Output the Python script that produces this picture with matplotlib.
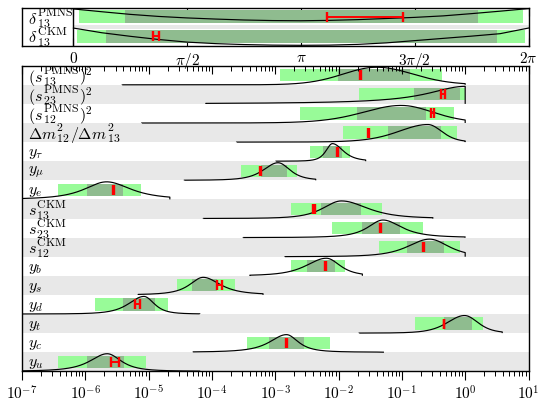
import numpy as np
import matplotlib
matplotlib.use("Agg")
import matplotlib.pyplot as plt
from matplotlib.ticker import LogLocator, NullFormatter, FixedLocator
from matplotlib.transforms import blended_transform_factory, ScaledTranslation

plt.rcParams['mathtext.fontset'] = 'cm'
plt.rcParams['font.family'] = 'serif'

# ---------------- data: lower panel (one entry per row, top to bottom) ----------------
# row labels as consecutive pieces; pieces starting with "{}" are script stacks set larger
row_labels = [
    ['$(s$', r'${}^{\mathrm{PMNS}}_{13}$', '$)^2$'],
    ['$(s$', r'${}^{\mathrm{PMNS}}_{23}$', '$)^2$'],
    ['$(s$', r'${}^{\mathrm{PMNS}}_{12}$', '$)^2$'],
    [r'$\Delta m$', '${}^{2}_{12}$', r'$/\Delta m$', '${}^{2}_{13}$'],
    [r'$y_\tau$'],
    [r'$y_\mu$'],
    [r'$y_e$'],
    ['$s$', r'${}^{\mathrm{CKM}}_{13}$'],
    ['$s$', r'${}^{\mathrm{CKM}}_{23}$'],
    ['$s$', r'${}^{\mathrm{CKM}}_{12}$'],
    [r'$y_b$'],
    [r'$y_s$'],
    [r'$y_d$'],
    [r'$y_t$'],
    [r'$y_c$'],
    [r'$y_u$'],
]

wide_lo = [1.178e-3, 2.080e-2, 2.438e-3, 1.175e-2, 3.499e-3, 2.858e-4, 3.656e-7,
           1.803e-3, 7.980e-3, 4.295e-2, 1.754e-3, 2.761e-5, 1.419e-6, 0.1629, 3.589e-4, 3.741e-7]
wide_hi = [0.4345, 0.977, 0.6561, 0.7396, 1.538e-2, 2.239e-3, 7.551e-6,
           4.920e-2, 0.2148, 0.8147, 1.250e-2, 2.296e-4, 2.032e-5, 1.901, 7.244e-3, 8.954e-6]
core_lo = [9.795e-3, 0.1531, 1.954e-2, 5.957e-2, 5.675e-3, 6.01e-4, 1.050e-6,
           5.224e-3, 2.344e-2, 0.1219, 3.221e-3, 4.764e-5, 3.963e-6, 0.4613, 7.980e-4, 1.072e-6]
core_hi = [0.1324, 0.8147, 0.2432, 0.4188, 1.148e-2, 1.560e-3, 3.882e-6,
           2.234e-2, 9.204e-2, 0.4560, 8.690e-3, 1.208e-4, 1.256e-5, 1.294, 2.818e-3, 4.064e-6]

meas_val = [2.208e-2, 0.4446, 0.3027, 2.951e-2, 9.795e-3, 5.834e-4, 2.761e-6,
            4.093e-3, 4.677e-2, 0.2228, 6.266e-3, 1.330e-4, 6.699e-6, 0.4613, 1.503e-3, 2.931e-6]
meas_err_dex = [0.008, 0.026, 0.026, 0.008, 0.008, 0.008, 0.008,
                0.012, 0.008, 0.008, 0.008, 0.042, 0.040, 0.006, 0.008, 0.066]

dist_lo = [3.80e-6, 8.0e-5, 7.74e-6, 2.44e-4, 1.019e-3, 3.64e-5, 1e-7,
           7.26e-5, 3.10e-4, 1.413e-3, 3.963e-4, 6.84e-6, 1e-7, 2.10e-2, 5.047e-5, 1e-7]
dist_hi = [1.0, 1.0, 1.0, 1.0, 2.679e-2, 4.355e-3, 2.163e-5,
           0.309, 1.0, 1.0, 2.377e-2, 6.412e-4, 6.442e-5, 3.846, 5.212e-2, 6.442e-5]
dist_peak = [4.0e-2, 1.0, 9.8e-2, 0.2576, 8.0e-3, 1.107e-3, 2.168e-6,
             1.109e-2, 5.023e-2, 0.2742, 6.427e-3, 7.261e-5, 8.414e-6, 0.977, 1.503e-3, 2.218e-6]
dist_wl = [0.63, 0.72, 0.72, 0.55, 0.12, 0.27, 0.41, 0.34, 0.28, 0.40, 0.37, 0.25, 0.28, 0.32, 0.31, 0.32]
dist_wr = [0.68, 0.72, 0.60, 0.26, 0.20, 0.22, 0.45, 0.48, 0.35, 0.35, 0.25, 0.32, 0.19, 0.25, 0.22, 0.26]
dist_nu = [30, 1, 10, 8, 3, 3, 2, 3, 2, 3, 3, 2, 3, 5, 2, 2]

x_tick_vals = [1e-7, 1e-6, 1e-5, 1e-4, 1e-3, 1e-2, 1e-1, 1e0, 1e1]
x_tick_labels = [r'$10^{-7}$', r'$10^{-6}$', r'$10^{-5}$', r'$10^{-4}$', r'$10^{-3}$',
                 r'$10^{-2}$', r'$10^{-1}$', r'$10^{0}$', r'$10^{1}$']

# ---------------- data: upper panel (phases) ----------------
phase_labels = [[r'$\delta$', r'${}^{\mathrm{PMNS}}_{13}$'],
                [r'$\delta$', r'${}^{\mathrm{CKM}}_{13}$']]
phase_wide = [(0.079, 6.210), (0.047, 6.228)]
phase_core = [(0.716, 5.583), (0.448, 5.850)]
phase_meas = [4.025, 1.145]
phase_err = [(0.528, 0.528), (0.0415, 0.0415)]
phase_grid = [k * np.pi / 8 for k in range(17)]
phase_curve_pmns = [0.95, 0.80, 0.66, 0.55, 0.47, 0.41, 0.36, 0.33, 0.32, 0.34, 0.38, 0.44, 0.50, 0.58, 0.70, 0.83, 0.97]
phase_curve_ckm = [0.93, 0.68, 0.49, 0.32, 0.18, 0.10, 0.05, 0.02, 0.01, 0.02, 0.06, 0.14, 0.26, 0.38, 0.50, 0.63, 0.93]
phase_tick_vals = [0, np.pi / 2, np.pi, 3 * np.pi / 2, 2 * np.pi]
phase_tick_labels = [r'$0$', r'$\pi/2$', r'$\pi$', r'$3\pi/2$', r'$2\pi$']

# ---------------- style ----------------
LIGHT = '#98fb98'
DARK = '#8fbc8f'
GRAY = '#e8e8e8'
W, H = 538, 402
DPI = 100
MAIN_SIZE = 11.5
STACK_SIZE = 8.5 / 0.7   # so the scripts in a stack come out at 8.5 pt


def peak_shape(d, w, nu):
    s = w / np.sqrt(nu * (2 ** (2.0 / (nu + 1)) - 1))
    return (1 + d ** 2 / (nu * s ** 2)) ** (-(nu + 1) / 2.0)


fig = plt.figure(figsize=(W / DPI, H / DPI), dpi=DPI)
ax = fig.add_axes([22 / W, 1 - 372.3 / H, 506.5 / W, 305.6 / H])
axt = fig.add_axes([22 / W, 1 - 46.5 / H, 506.5 / W, 37.5 / H])
renderer = fig.canvas.get_renderer()


def typeset(axis, ycen, parts, xfrac=0.011):
    """Place label pieces side by side on a common baseline, centred on ycen."""
    base = blended_transform_factory(axis.transAxes, axis.transData)
    items = []
    cursor = 0.0
    for s in parts:
        size = STACK_SIZE if s.startswith('${}') else MAIN_SIZE
        t = axis.text(xfrac, ycen, s, fontsize=size, ha='left', va='baseline',
                      transform=base, zorder=6)
        t.set_transform(base + ScaledTranslation(cursor / DPI, 0, fig.dpi_scale_trans))
        items.append((t, cursor))
        cursor += t.get_window_extent(renderer).width
    ycen_disp = base.transform((0, ycen))[1]
    bbs = [it[0].get_window_extent(renderer) for it in items]
    y0 = min(b.y0 for b in bbs)
    y1 = max(b.y1 for b in bbs)
    shift = ycen_disp - 0.5 * (y0 + y1)
    for t, dx in items:
        t.set_transform(base + ScaledTranslation(dx / DPI, shift / DPI, fig.dpi_scale_trans))


# ---------- lower panel ----------
n = len(row_labels)
ax.set_xscale('log')
ax.set_xlim(1e-7, 1e1)
ax.set_ylim(n, 0)
for i in range(n):
    if i % 2 == 1:
        ax.axhspan(i, i + 1, color=GRAY, lw=0, zorder=0)
    ax.barh(i + 0.5, wide_hi[i] - wide_lo[i], left=wide_lo[i], height=0.64,
            color=LIGHT, lw=0, zorder=1)
    ax.barh(i + 0.5, core_hi[i] - core_lo[i], left=core_lo[i], height=0.64,
            color=DARK, lw=0, zorder=2)
    xs = np.logspace(np.log10(dist_lo[i]), np.log10(dist_hi[i]), 500)
    d = np.log10(xs) - np.log10(dist_peak[i])
    w = np.where(d < 0, dist_wl[i], dist_wr[i])
    f = peak_shape(d, w, dist_nu[i])
    ys = i + 1 - 0.92 * f
    ax.plot(np.r_[dist_lo[i], xs, dist_hi[i]], np.r_[i + 1, ys, i + 1],
            color='black', lw=0.85, zorder=3, solid_capstyle='butt')
    v = meas_val[i]
    e = meas_err_dex[i]
    ax.errorbar(v, i + 0.5, xerr=[[v - v * 10 ** (-e)], [v * 10 ** e - v]], fmt='none',
                ecolor='red', elinewidth=1.4, capsize=3.3, capthick=1.7, zorder=4)

ax.set_yticks([])
ax.xaxis.set_major_locator(FixedLocator(x_tick_vals))
ax.set_xticklabels(x_tick_labels)
ax.xaxis.set_minor_locator(LogLocator(base=10, subs=np.arange(2, 10), numticks=100))
ax.xaxis.set_minor_formatter(NullFormatter())
ax.tick_params(axis='x', which='major', direction='out', length=6.5, width=0.8,
               labelsize=11, pad=2)
ax.tick_params(axis='x', which='minor', direction='out', length=3.5, width=0.7)
for sp in ax.spines.values():
    sp.set_linewidth(1.0)

axtop = ax.twiny()
axtop.set_xscale('log')
axtop.set_xlim(1e-7, 1e1)
axtop.xaxis.set_major_locator(FixedLocator(x_tick_vals))
axtop.xaxis.set_minor_locator(LogLocator(base=10, subs=np.arange(2, 10), numticks=100))
axtop.xaxis.set_major_formatter(NullFormatter())
axtop.xaxis.set_minor_formatter(NullFormatter())
axtop.tick_params(axis='x', which='major', direction='in', length=6, width=0.8)
axtop.tick_params(axis='x', which='minor', direction='in', length=3.5, width=0.7)
for sp in axtop.spines.values():
    sp.set_visible(False)

# ---------- upper panel ----------
axt.set_xlim(-0.71, 2 * np.pi)
axt.set_ylim(2, 0)
axt.barh(1.0, 2 * np.pi, left=0, height=0.24, color=GRAY, lw=0, zorder=0)
bar_c = [0.4535, 1.528]
bar_h = [0.693, 0.71]
curves = [phase_curve_pmns, phase_curve_ckm]
for r in range(2):
    lo, hi = phase_wide[r]
    axt.barh(bar_c[r], hi - lo, left=lo, height=bar_h[r], color=LIGHT, lw=0, zorder=1)
    lo, hi = phase_core[r]
    axt.barh(bar_c[r], hi - lo, left=lo, height=bar_h[r], color=DARK, lw=0, zorder=2)
    axt.plot(phase_grid, [r + 1 - c for c in curves[r]], color='black', lw=0.85, zorder=3)
    axt.errorbar(phase_meas[r], r + 0.5, xerr=[[phase_err[r][0]], [phase_err[r][1]]],
                 fmt='none', ecolor='red', elinewidth=1.4, capsize=3.3, capthick=1.7, zorder=4)
axt.axvline(0, color='black', lw=1.0, zorder=5)
axt.set_yticks([])
axt.set_xticks(phase_tick_vals)
axt.set_xticklabels(phase_tick_labels)
axt.tick_params(axis='x', direction='in', top=True, bottom=True, length=5.5, width=0.8,
                labelsize=11, pad=3)
for sp in axt.spines.values():
    sp.set_linewidth(1.0)

# ---------- row labels ----------
for i in range(n):
    typeset(ax, i + 0.5, row_labels[i])
for r in range(2):
    typeset(axt, r + 0.5, phase_labels[r])

fig.savefig('out.png', dpi=DPI)
